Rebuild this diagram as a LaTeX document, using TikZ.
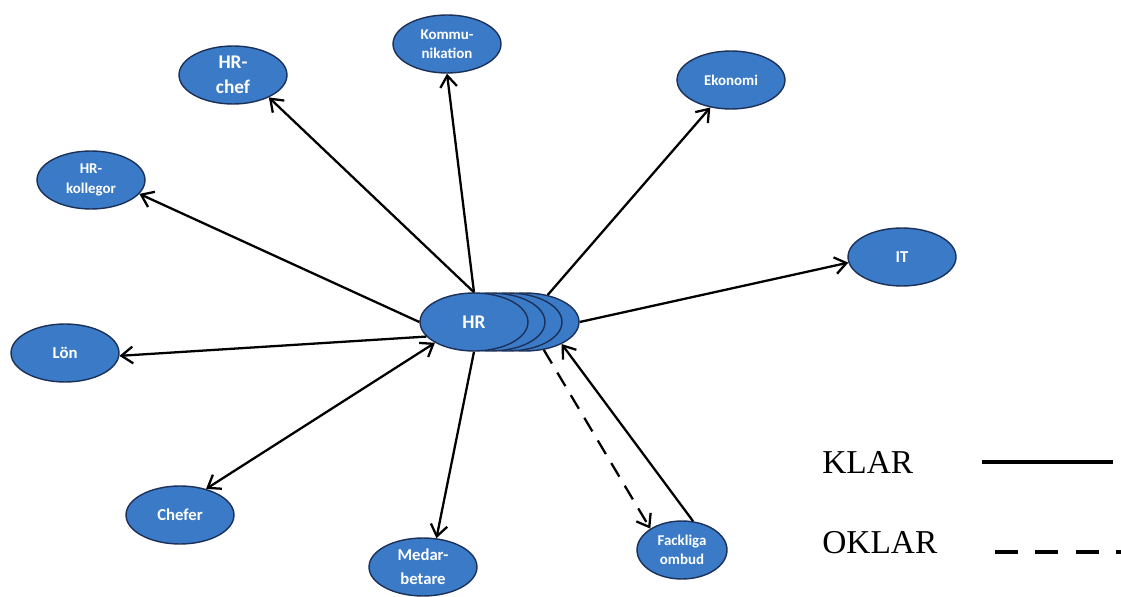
\documentclass[tikz,border=0pt]{standalone}
\usepackage{fontspec}
\setmainfont{Liberation Serif}
\newfontfamily\labelfont{Carlito}
\usetikzlibrary{shapes.geometric,arrows.meta,positioning}
\definecolor{partyblue}{RGB}{58,122,198}
\definecolor{partyline}{RGB}{28,48,88}
\tikzset{>={Straight Barb[length=6.5pt,width=9.5pt]}}
\tikzstyle{Party} = [draw=partyline, fill=partyblue, ellipse, line width=0.8pt, minimum width=2.16cm, minimum height=1.16cm, inner sep=0pt, text=white, align=center]
\tikzstyle{Small} = [font=\labelfont\bfseries\fontsize{8.5}{11}\selectfont]
\tikzstyle{Medium} = [font=\labelfont\bfseries\fontsize{9.5}{13.5}\selectfont]
\tikzstyle{Large} = [font=\labelfont\bfseries\fontsize{11}{14.5}\selectfont]
\tikzstyle{Link} = [line width=1.3pt, ->]
\tikzstyle{Legend} = [anchor=base west, inner sep=0pt, font=\fontsize{19}{22}\selectfont]

\begin{document}
\begin{tikzpicture}[x=0.02cm, y=-0.02cm]
    \useasboundingbox (0,0) rectangle (1121,597);
    % HR with its stacked copies behind
    \node[Party]        (hr3) at (525,322) {};
    \node[Party]        (hr2) at (508,322) {};
    \node[Party]        (hr1) at (491,322) {};
    \node[Party, Large] (hr)  at (474,322) {HR};
    % the parties round it
    \node[Party, Large]  (p_hrchef)   at (233,75)  {HR-\\chef};
    \node[Party, Small]  (p_komm)     at (447,44)  {Kommu-\\nikation};
    \node[Party, Small]  (p_ekonomi)  at (731,80)  {Ekonomi};
    \node[Party, Small]  (p_kollegor) at (91,180)  {HR-\\kollegor};
    \node[Party, Medium] (p_it)       at (902,257) {IT};
    \node[Party, Medium] (p_lon)      at (65,353)  {Lön};
    \node[Party, Medium] (p_chefer)   at (180,515) {Chefer};
    \node[Party, Medium] (p_medarb)   at (423,567) {Medar-\\betare};
    \node[Party, Small, minimum width=1.8cm] (p_fack) at (682,550) {Fackliga\\ombud};
    \draw[Link] (hr.north)  -- (p_hrchef.-32);
    \draw[Link] (hr.north)  -- (p_komm.south);
    \draw[Link] (hr3.50)    -- (p_ekonomi.-127);
    \draw[Link] (hr.west)   -- (p_kollegor.-16);
    \draw[Link] (hr3.east)  -- (p_it.186);
    \draw[Link] (hr.-163)   -- (p_lon.-3);
    \draw[Link, <->] (hr.-152) -- (p_chefer.45);
    \draw[Link] (hr.south)  -- (p_medarb.65);
    \draw[Link, dash pattern=on 9pt off 6pt] (hr3.-56) -- (p_fack.146);
    \draw[Link] (p_fack.69) -- (hr3.-31);
    % legend
    \node[Legend] (klar)  at (822,473) {KLAR};
    \node[Legend] (oklar) at (822,553) {OKLAR};
    \coordinate (klar_a)  at (982,462);
    \coordinate (klar_b)  at (1113,462);
    \coordinate (oklar_a) at (995,552);
    \coordinate (oklar_b) at (1121,552);
    \draw[line width=2.8pt] (klar_a) -- (klar_b);
    \draw[line width=2.8pt, dash pattern=on 13pt off 10pt] (oklar_a) -- (oklar_b);
\end{tikzpicture}
\end{document}
